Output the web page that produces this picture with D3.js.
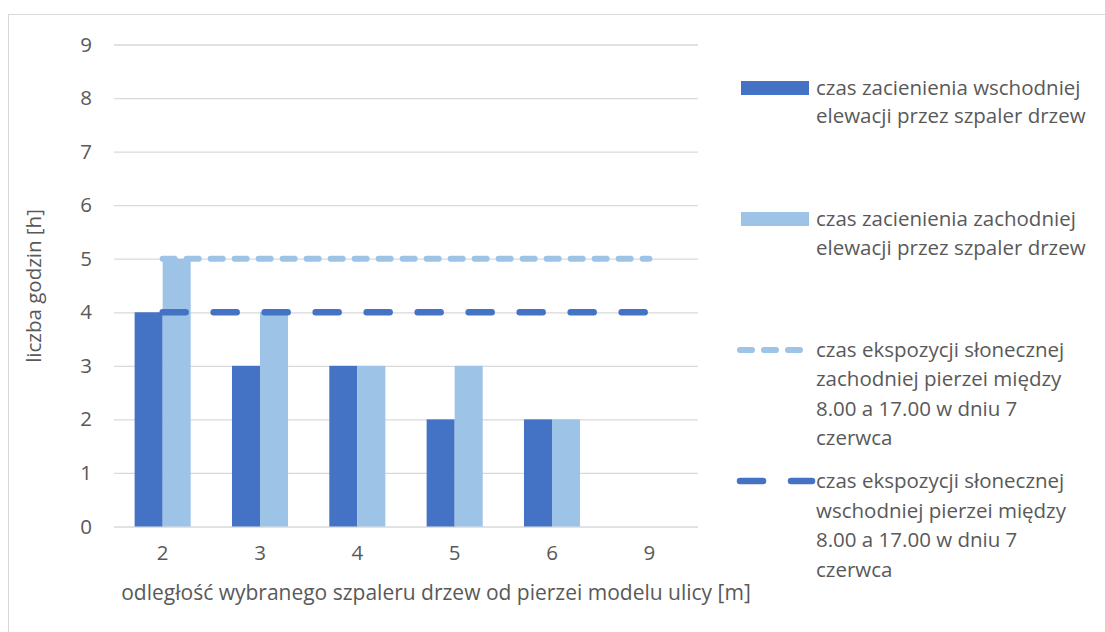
<!DOCTYPE html>
<html><head><meta charset="utf-8">
<script src="https://cdn.jsdelivr.net/npm/d3@7"></script>
<style>body{margin:0;background:#fff}svg{display:block}text{font-family:"Open Sans",sans-serif;fill:#595959}</style>
</head><body><svg id="c" width="1105" height="632"></svg>
<script>
const categories = ["2","3","4","5","6","9"];
const eastShade = [4,3,3,2,2,0];
const westShade = [5,4,3,3,2,0];
const westExposure = [5,5,5,5,5,5];
const eastExposure = [4,4,4,4,4,4];
const yTicks = [0,1,2,3,4,5,6,7,8,9];
const seriesNames = [
  ["czas zacienienia wschodniej","elewacji przez szpaler drzew"],
  ["czas zacienienia zachodniej","elewacji przez szpaler drzew"],
  ["czas ekspozycji słonecznej","zachodniej pierzei między","8.00 a 17.00 w dniu 7","czerwca"],
  ["czas ekspozycji słonecznej","wschodniej pierzei między","8.00 a 17.00 w dniu 7","czerwca"]
];
const cDark = "#4472C4", cLight = "#9DC3E6";
const FS = 20.5;

const svg = d3.select("#c");
svg.append("rect").attr("x",8.5).attr("y",14.5).attr("width",1110).attr("height",640)
  .attr("fill","#fff").attr("stroke","#d9d9d9").attr("stroke-width",1);

const x0 = d3.scaleBand().domain(categories).range([114,698]).paddingInner(0.424).paddingOuter(0.212);
const x1 = d3.scaleBand().domain(["e","w"]).range([0,x0.bandwidth()]);
const y = d3.scaleLinear().domain([0,9]).range([526.5,44.5]);

// grid
const yAxis = d3.axisLeft(y).tickValues(yTicks).tickSize(-(698-114)).tickPadding(22);
const gy = svg.append("g").attr("transform","translate(114,0)").call(yAxis);
gy.select(".domain").remove();
gy.selectAll(".tick line").attr("stroke","#d9d9d9").attr("stroke-width",1.3);
gy.selectAll(".tick text").attr("font-size",FS).attr("fill","#595959").attr("font-family","Open Sans");

const xAxis = d3.axisBottom(x0).tickSize(0).tickPadding(19);
const gx = svg.append("g").attr("transform","translate(0,526.5)").call(xAxis);
gx.select(".domain").remove();
gx.selectAll(".tick text").attr("font-size",FS).attr("fill","#595959").attr("font-family","Open Sans");

// bars
const g = svg.append("g");
categories.forEach((c,i)=>{
  g.append("rect").attr("x",x0(c)+x1("e")).attr("width",x1.bandwidth())
    .attr("y",y(eastShade[i])).attr("height",y(0)-y(eastShade[i])).attr("fill",cDark);
  g.append("rect").attr("x",x0(c)+x1("w")).attr("width",x1.bandwidth())
    .attr("y",y(westShade[i])).attr("height",y(0)-y(westShade[i])).attr("fill",cLight);
});

// lines
const line = (arr)=>d3.line().x((d,i)=>x0(categories[i])+x0.bandwidth()/2).y(d=>y(d))(arr);
svg.append("path").attr("d",line(westExposure)).attr("fill","none").attr("stroke",cLight)
  .attr("stroke-width",6).attr("stroke-linecap","round").attr("stroke-dasharray","12,12");
svg.append("path").attr("d",line(eastExposure)).attr("fill","none").attr("stroke",cDark)
  .attr("stroke-width",6.5).attr("stroke-linecap","round").attr("stroke-dasharray","23,28");

// axis titles
svg.append("text").attr("x",436).attr("y",600).attr("text-anchor","middle").attr("font-size",21)
  .text("odległość wybranego szpaleru drzew od pierzei modelu ulicy [m]");
svg.append("text").attr("transform","translate(41,286) rotate(-90)").attr("text-anchor","middle").attr("font-size",FS)
  .text("liczba godzin [h]");

// legend
const lg = svg.append("g");
const lx = 816;
const legendTop = [95, 226, 357, 488];
const lineH = [28, 29, 29.3, 29.5];
seriesNames.forEach((lines,k)=>{
  const cy = legendTop[k]-7;
  if(k<2){
    lg.append("rect").attr("x",741).attr("y",cy-7).attr("width",68).attr("height",14).attr("fill",k===0?cDark:cLight);
  } else if(k===2){
    lg.append("line").attr("x1",740).attr("x2",800).attr("y1",cy).attr("y2",cy).attr("stroke",cLight)
      .attr("stroke-width",6).attr("stroke-linecap","round").attr("stroke-dasharray","12,12");
  } else {
    lg.append("line").attr("x1",740).attr("x2",812).attr("y1",cy).attr("y2",cy).attr("stroke",cDark)
      .attr("stroke-width",6.5).attr("stroke-linecap","round").attr("stroke-dasharray","23,28");
  }
  lines.forEach((t,j)=>{
    lg.append("text").attr("x",lx).attr("y",legendTop[k]+j*lineH[k]).attr("font-size",FS).text(t);
  });
});
</script></body></html>
